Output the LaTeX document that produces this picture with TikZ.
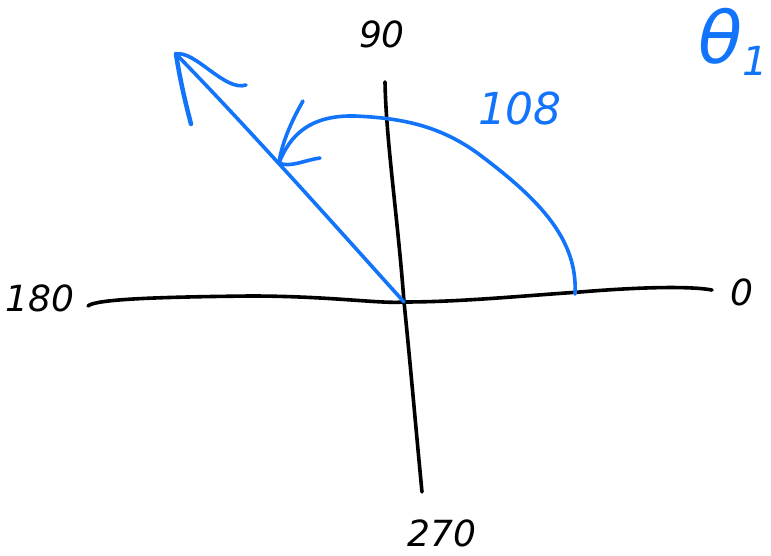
\documentclass[tikz,border=0pt]{standalone}
\usepackage{fontspec}
\setmainfont{DejaVu Sans}
\definecolor{penblue}{RGB}{18,116,250}
\begin{document}
\begin{tikzpicture}[x=1pt,y=-1pt,
  ink/.style={line width=3.6pt,line cap=round,line join=round},
  blk/.style={ink,black},
  blu/.style={ink,penblue},
  lbl/.style={font=\fontsize{36}{36}\selectfont\itshape,inner sep=0pt},
]
\useasboundingbox[fill=white] (0,0) rectangle (771,556);
% coordinates
\coordinate (o) at (404,302);
\coordinate (xl) at (88,306);
\coordinate (xr) at (712,290);
\coordinate (yt) at (385,82);
\coordinate (yb) at (422,492);
\coordinate (tip) at (176,54);
\coordinate (arcs) at (575,294);
\coordinate (arce) at (279,163);
% axes
\draw[blk] (xl) .. controls (95,299) and (160,297) .. (250,296)
  .. controls (330,296) and (380,304) .. (o)
  .. controls (460,302) and (520,296) .. (580,292)
  .. controls (640,287) and (690,286) .. (xr);
\draw[blk] (yt) .. controls (386,140) and (398,220) .. (o)
  .. controls (410,360) and (416,430) .. (yb);
% labels
\node[lbl] (l90) at (382,34) {90};
\node[lbl] (l180) at (40,298) {180};
\node[lbl] (l270) at (442,533) {270};
\node[lbl,anchor=west] (l0) at (730,292) {0};
\node[lbl,penblue,font=\fontsize{44}{44}\selectfont\itshape] (l108) at (520,108) {108};
\node[lbl,penblue,anchor=east,font=\fontsize{72}{72}\selectfont\itshape] (th) at (768,42) {θ\raisebox{-0.3ex}{\fontsize{40}{40}\selectfont 1}};
% blue ray
\draw[blu] (o) .. controls (330,220) and (250,130) .. (tip);
\draw[blu,line width=4.5pt] (tip) .. controls (180,80) and (186,105) .. (191,124);
\draw[blu] (tip) .. controls (195,50) and (225,92) .. (246,85);
% arc
\draw[blu] (arcs) .. controls (578,240) and (540,200) .. (480,155)
  .. controls (440,125) and (400,118) .. (355,116)
  .. controls (310,115) and (290,135) .. (arce);
\draw[blu] (arce) .. controls (282,140) and (295,115) .. (303,101);
\draw[blu] (arce) .. controls (290,168) and (305,160) .. (320,158);
\end{tikzpicture}
\end{document}
